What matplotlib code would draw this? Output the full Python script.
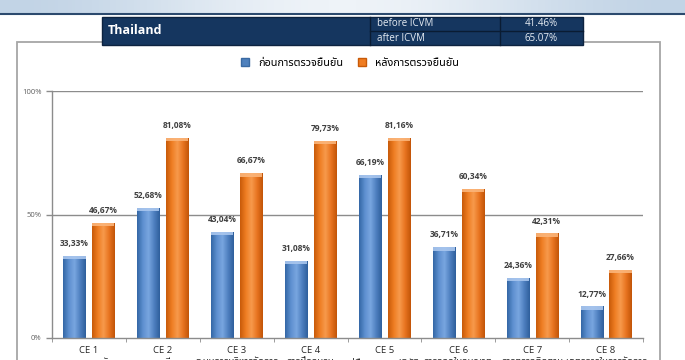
import numpy as np
import matplotlib
matplotlib.use("Agg")
import matplotlib.pyplot as plt
from matplotlib import font_manager
from matplotlib.ft2font import FT2Font
from matplotlib.patches import Rectangle, Patch
from matplotlib.colors import LinearSegmentedColormap
import matplotlib.ticker as mticker

categories = ["CE 1", "CE 2", "CE 3", "CE 4", "CE 5", "CE 6", "CE 7", "CE 8"]
cat_thai = ["กฎหมายหลัก", "กฎระเบียบ", "ระบบการบริหารจัดการ", "การฝึกอบรม",
            "คู่มือและแนวปฏิบัติ", "การออกใบอนุญาต", "การตรวจติดตาม", "มาตรการในการจัดการ"]
before = [33.33, 52.68, 43.04, 31.08, 66.19, 36.71, 24.36, 12.77]
after = [46.67, 81.08, 66.67, 79.73, 81.16, 60.34, 42.31, 27.66]
series_names = ["ก่อนการตรวจยืนยัน", "หลังการตรวจยืนยัน"]
yticks = [0, 50, 100]
table_country = "Thailand"
table_rows = ["before ICVM", "after ICVM"]
table_vals = ["41.46%", "65.07%"]

# find a font with Thai glyphs
thai_font = None
pref = []
for f in font_manager.fontManager.ttflist:
    try:
        cm = FT2Font(f.fname).get_charmap()
    except Exception:
        continue
    if 0x0E01 in cm:
        pref.append(f.name)
def score(n):
    s = 0
    if "Thai" in n: s -= 10
    if "Sans" in n: s -= 5
    if "Looped" in n: s += 3
    return s
if pref:
    thai_font = sorted(set(pref), key=score)[0]
base = "Open Sans"
fam = [thai_font, base, "DejaVu Sans"] if thai_font else [base, "DejaVu Sans"]
plt.rcParams["font.family"] = fam

W, H = 685, 360
fig = plt.figure(figsize=(W / 100, H / 100), dpi=100)
fig.patch.set_facecolor("white")

def fx(px): return px / W
def fy(py): return 1 - py / H

# top banner gradient
bax = fig.add_axes([0, fy(14), 1, 14 / H])
bax.axis("off")
g = np.linspace(0, 1, 200)
band = 0.5 + 0.5 * np.cos(g * np.pi * 2) * 0.6
bcmap = LinearSegmentedColormap.from_list("b", ["#eef3f8", "#c2d4e6"])
bax.imshow(np.vstack([band, band]), cmap=bcmap, aspect="auto", extent=[0, 1, 0, 1])
bax.set_xlim(0, 1); bax.set_ylim(0, 1)
fig.add_artist(plt.Line2D([0, 1], [fy(14), fy(14)], color="#2c4a6e", lw=1.5))

# outer box
fig.add_artist(Rectangle((fx(17), fy(365)), fx(660 - 17), (365 - 42) / H,
                         fill=False, ec="#a6a6a6", lw=1.3, zorder=1))

# table
fig.add_artist(Rectangle((fx(102), fy(45)), fx(583 - 102), (45 - 17) / H,
                         fc="#15365f", ec="#0d2340", lw=1, zorder=3))
for xv in (370, 500):
    fig.add_artist(plt.Line2D([fx(xv), fx(xv)], [fy(45), fy(17)], color="#0a1c33", lw=1, zorder=4))
fig.add_artist(plt.Line2D([fx(370), fx(583)], [fy(31), fy(31)], color="#0a1c33", lw=1, zorder=4))
fig.text(fx(108), fy(30.5), table_country, color="white", fontsize=9, fontweight="bold",
         va="center", ha="left", family=[base], zorder=5)
for i, (r, v) in enumerate(zip(table_rows, table_vals)):
    yy = fy(24 + i * 14.5)
    fig.text(fx(377), yy, r, color="#e6ecf3", fontsize=7, va="center", ha="left", family=[base], zorder=5)
    fig.text(fx(558), yy, v, color="#e6ecf3", fontsize=7, va="center", ha="right", family=[base], zorder=5)

# main axes
ax = fig.add_axes([fx(52), fy(338), fx(643 - 52), (338 - 91) / H])
x = np.arange(len(categories))
bw = 0.30
off = 0.195
cb = LinearSegmentedColormap.from_list("cb", ["#3467a6", "#5d8fcf", "#79a6e0", "#4f80c0", "#2f5f9c"])
co = LinearSegmentedColormap.from_list("co", ["#c85a0a", "#ee7d22", "#f79a4c", "#e87420", "#c25508"])
grad = np.linspace(0, 1, 64)[None, :]

def draw(vals, dx, cmap, capc):
    bars = ax.bar(x + dx, vals, bw, color="none", ec="none", zorder=2)
    for b in bars:
        x0, w, h = b.get_x(), b.get_width(), b.get_height()
        im = ax.imshow(grad, cmap=cmap, extent=[x0, x0 + w, 0, h], aspect="auto", zorder=2.5)
        im.set_clip_path(b)
        ax.add_patch(Rectangle((x0, h - 1.3), w, 1.3, fc=capc, ec="none", zorder=2.7, alpha=0.9))
    return bars

draw(before, -off, cb, "#a9c6ee")
draw(after, off, co, "#fbb57a")

for i in range(len(categories)):
    ax.text(x[i] - off, before[i] + 3.2, f"{before[i]:.2f}%".replace(".", ","), ha="center",
            va="bottom", fontsize=6, fontweight="bold", color="#404040", family=[base])
    ax.text(x[i] + off, after[i] + 3.2, f"{after[i]:.2f}%".replace(".", ","), ha="center",
            va="bottom", fontsize=6, fontweight="bold", color="#404040", family=[base])

ax.set_xlim(-0.5, len(categories) - 0.5)
ax.set_ylim(0, 100)
ax.set_yticks(yticks)
ax.yaxis.set_major_formatter(mticker.FuncFormatter(lambda v, p: f"{int(v)}%"))
ax.tick_params(axis="y", labelsize=5.5, labelcolor="#606060", color="#8c8c8c", length=4, width=1)
for yv in yticks[1:]:
    ax.axhline(yv, color="#8c8c8c", lw=1, zorder=1)
ax.set_xticks(x)
ax.set_xticklabels([f"{c}\n{t}" for c, t in zip(categories, cat_thai)], fontsize=6.8,
                   color="#262626", linespacing=1.25)
ax.tick_params(axis="x", length=0, pad=6)
ax.set_xticks(np.arange(-0.5, len(categories)), minor=True)
ax.tick_params(axis="x", which="minor", length=3, color="#8c8c8c")
for s in ("top", "right"):
    ax.spines[s].set_visible(False)
for s in ("left", "bottom"):
    ax.spines[s].set_color("#8c8c8c")
    ax.spines[s].set_linewidth(1)
ax.set_facecolor("none")

handles = [Patch(fc="#4f81bd", ec="#3a6aa3"), Patch(fc="#f07d22", ec="#c85a08")]
fig.legend(handles, series_names, loc="center", bbox_to_anchor=(fx(350), fy(63)), ncol=2,
           frameon=False, fontsize=7.8, handlelength=0.75, handleheight=0.75, columnspacing=1.4,
           handletextpad=0.8)

fig.savefig("out.png", dpi=100)
